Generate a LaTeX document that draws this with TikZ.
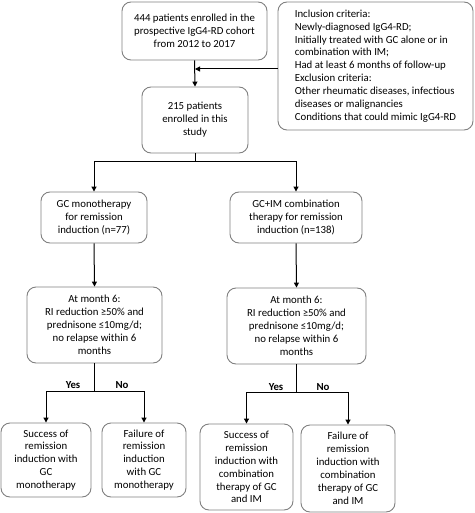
\documentclass[tikz,border=0pt]{standalone}
\usepackage{fontspec}
\setmainfont{Carlito}
\usetikzlibrary{arrows.meta}
\begin{document}
\begin{tikzpicture}[x=1pt,y=1pt,
  box/.style={draw=black!50, line width=0.9pt, rounded corners=9pt, align=center, inner sep=0pt,
    font=\fontsize{10.8}{12.9}\selectfont},
  conn/.style={line width=1pt, black},
  arr/.style={conn, -{Triangle[width=5pt,length=5pt]}},
  lbl/.style={font=\fontsize{10.8}{12}\selectfont\bfseries, inner sep=0pt}]
\useasboundingbox (0,0) rectangle (474,-513);
\node[box, minimum width=145pt, minimum height=58pt] (A) at (194.5,-31) {444 patients enrolled in the\\prospective IgG4-RD cohort\\from 2012 to 2017};
\node[box, minimum width=195pt, minimum height=128pt, align=left] (Inc) at (375.5,-66) {Inclusion criteria:\\Newly-diagnosed IgG4-RD;\\Initially treated with GC alone or in\\combination with IM;\\Had at least 6 months of follow-up\\Exclusion criteria:\\Other rheumatic diseases, infectious\\diseases or malignancies\\Conditions that could mimic IgG4-RD};
\node[box, minimum width=106pt, minimum height=66pt] (B) at (195,-120) {215 patients\\enrolled in this\\study};
\node[box, minimum width=106pt, minimum height=51pt] (C) at (94,-217.5) {GC monotherapy\\for remission\\induction (n=77)};
\node[box, minimum width=132pt, minimum height=51pt] (D) at (296,-217.5) {GC+IM combination\\therapy for remission\\induction (n=138)};
\node[box, minimum width=135pt, minimum height=76pt] (E) at (94.5,-325) {At month 6:\\RI reduction ≥50\% and\\prednisone ≤10mg/d;\\no relapse within 6\\months};
\node[box, minimum width=139pt, minimum height=76pt] (F) at (296.5,-326) {At month 6:\\RI reduction ≥50\% and\\prednisone ≤10mg/d;\\no relapse within 6\\months};
\node[box, minimum width=90pt, minimum height=74pt] (G) at (46,-460) {Success of\\remission\\induction with\\GC\\monotherapy};
\node[box, minimum width=84pt, minimum height=74pt] (H) at (144,-460) {Failure of\\remission\\induction\\with GC\\monotherapy};
\node[box, minimum width=93pt, minimum height=86pt] (I) at (246.5,-467) {Success of\\remission\\induction with\\combination\\therapy of GC\\and IM};
\node[box, minimum width=94pt, minimum height=87pt] (J) at (348,-468.5) {Failure of\\remission\\induction with\\combination\\therapy of GC\\and IM};
\coordinate (m) at (195,-69);
\coordinate (s1) at (195,-161);
\coordinate (s2) at (94.5,-391);
\coordinate (s3) at (296.5,-392);
\draw[arr] (A.south) -- (B.north);
\draw[arr] (Inc.west |- m) -- (m);
\draw[conn] (B.south) -- (s1);
\draw[arr] (s1) -| (C.north);
\draw[arr] (s1) -| (D.north);
\draw[arr] (C.south) -- (E.north);
\draw[arr] (D.south) -- (F.north);
\draw[conn] (E.south) -- (s2);
\draw[arr] (s2) -| (G.north);
\draw[arr] (s2) -| (H.north);
\draw[conn] (F.south) -- (s3);
\draw[arr] (s3) -| (I.north);
\draw[arr] (s3) -| (J.north);
\node[lbl] (y1) at (73,-385) {Yes};
\node[lbl] (n1) at (122,-385) {No};
\node[lbl] (y2) at (276,-387) {Yes};
\node[lbl] (n2) at (323,-387) {No};
\end{tikzpicture}
\end{document}
